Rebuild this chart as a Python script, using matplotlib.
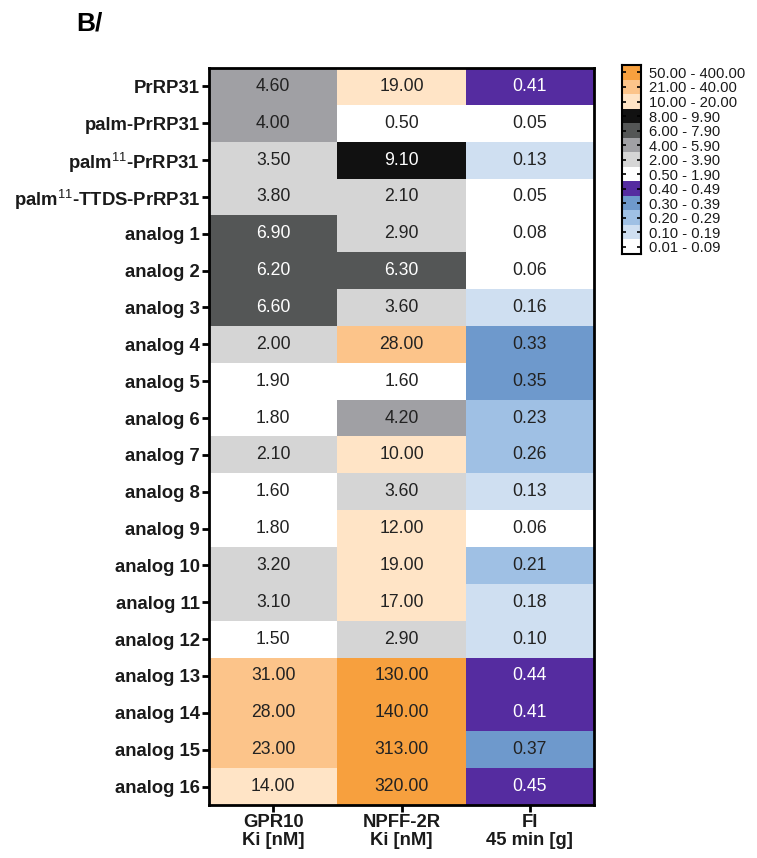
import numpy as np
import matplotlib
matplotlib.use('Agg')
import matplotlib.pyplot as plt
from matplotlib.colors import ListedColormap, BoundaryNorm

plt.rcParams['font.family'] = ['Liberation Sans', 'DejaVu Sans']
plt.rcParams['mathtext.fontset'] = 'custom'
plt.rcParams['mathtext.rm'] = 'Liberation Sans'
plt.rcParams['mathtext.bf'] = 'Liberation Sans:bold'

# ────────────────────────────────
# Данные

compounds = ['PrRP31', 'palm-PrRP31', 'palm$^{11}$-PrRP31', 'palm$^{11}$-TTDS-PrRP31',
             'analog 1', 'analog 2', 'analog 3', 'analog 4', 'analog 5', 'analog 6',
             'analog 7', 'analog 8', 'analog 9', 'analog 10', 'analog 11', 'analog 12',
             'analog 13', 'analog 14', 'analog 15', 'analog 16']
columns = ['GPR10\nKi [nM]', 'NPFF-2R\nKi [nM]', 'FI\n45 min [g]']

gpr10 = [4.60, 4.00, 3.50, 3.80, 6.90, 6.20, 6.60, 2.00, 1.90, 1.80,
         2.10, 1.60, 1.80, 3.20, 3.10, 1.50, 31.00, 28.00, 23.00, 14.00]
npff2r = [19.00, 0.50, 9.10, 2.10, 2.90, 6.30, 3.60, 28.00, 1.60, 4.20,
          10.00, 3.60, 12.00, 19.00, 17.00, 2.90, 130.00, 140.00, 313.00, 320.00]
fi45 = [0.41, 0.05, 0.13, 0.05, 0.08, 0.06, 0.16, 0.33, 0.35, 0.23,
        0.26, 0.13, 0.06, 0.21, 0.18, 0.10, 0.44, 0.41, 0.37, 0.45]

bounds = [0.01, 0.10, 0.20, 0.30, 0.40, 0.50, 2.00, 4.00, 6.00, 8.00, 10.00, 21.00, 50.00, 400.00]
bin_labels = ['0.01 - 0.09', '0.10 - 0.19', '0.20 - 0.29', '0.30 - 0.39', '0.40 - 0.49',
              '0.50 - 1.90', '2.00 - 3.90', '4.00 - 5.90', '6.00 - 7.90', '8.00 - 9.90',
              '10.00 - 20.00', '21.00 - 40.00', '50.00 - 400.00']
bin_colors = ['#ffffff', '#cfdff1', '#9fc0e4', '#6e99cc', '#552ca0',
              '#ffffff', '#d5d5d5', '#a0a0a4', '#545656', '#111111',
              '#ffe4c6', '#fcc48a', '#f7a03e']
light_text = {'#552ca0', '#545656', '#111111'}

# ────────────────────────────────
# Рисуем

values = np.array([gpr10, npff2r, fi45]).T
cmap = ListedColormap(bin_colors)
norm = BoundaryNorm(bounds, cmap.N)

fig = plt.figure(figsize=(7.57, 8.58), dpi=100)
ax = fig.add_axes([0.2761, 0.0618, 0.5086, 0.8590])
ax.pcolormesh(values, cmap=cmap, norm=norm)
ax.set_xlim(0, 3)
ax.set_ylim(len(compounds), 0)

for r in range(len(compounds)):
    for c in range(3):
        v = values[r, c]
        col = bin_colors[int(np.searchsorted(bounds, v, side='right')) - 1]
        tcol = 'white' if col in light_text else '#222222'
        ax.text(c + 0.5, r + 0.5, '%.2f' % v, ha='center', va='center',
                fontsize=12.7, color=tcol)

ax.set_yticks(np.arange(len(compounds)) + 0.5)
ax.set_yticklabels(compounds, fontsize=13.3, fontweight='bold', color='#1a1a1a')
ax.set_xticks(np.arange(3) + 0.5)
ax.set_xticklabels(columns, fontsize=13.3, fontweight='bold', color='#1a1a1a', linespacing=1.05)
ax.tick_params(axis='both', length=5, width=2, direction='out', pad=1.5)
for s in ax.spines.values():
    s.set_linewidth(2)

# легенда — цветная шкала
cax = fig.add_axes([0.8217, 0.704, 0.0245, 0.220])
ncol = len(bin_colors)
cax.pcolormesh(np.arange(ncol).reshape(-1, 1), cmap=cmap,
               norm=BoundaryNorm(np.arange(ncol + 1) - 0.5, ncol))
cax.set_xlim(0, 1)
cax.set_ylim(0, ncol)
cax.set_xticks([])
cax.set_yticks(np.arange(ncol) + 0.5)
cax.set_yticklabels(bin_labels, fontsize=10.6, color='#1a1a1a')
cax.yaxis.tick_right()
cax.tick_params(axis='y', left=True, right=True, direction='in', length=3, width=1.2, pad=6)
for s in cax.spines.values():
    s.set_linewidth(1.5)

fig.text(0.101, 0.965, 'B/', fontsize=19, fontweight='bold')

fig.savefig('out.png', dpi=100)
